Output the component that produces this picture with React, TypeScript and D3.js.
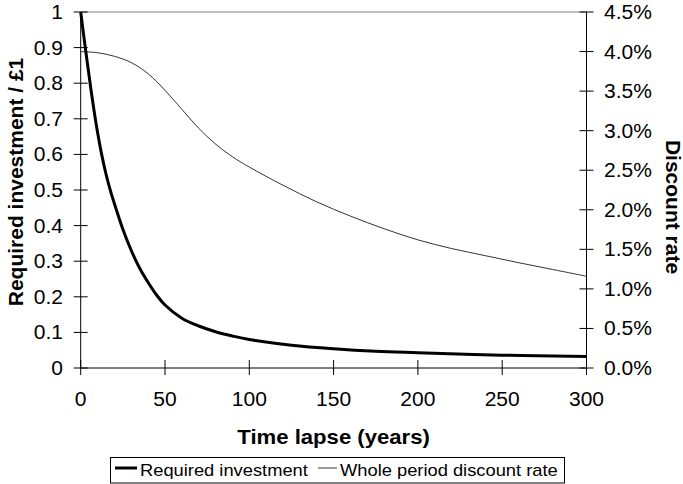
import React from "react";
import * as d3 from "d3";

// Time lapse (years) and the required investment per £1 at each point
const investYears = [0, 3, 6, 9, 12, 15, 18, 21, 25, 30, 35, 40, 45, 50, 60, 70, 80, 90, 100, 125, 150, 175, 200, 250, 300];
const investValues = [1.0, 0.89, 0.785, 0.69, 0.61, 0.545, 0.492, 0.447, 0.39, 0.33, 0.28, 0.24, 0.205, 0.177, 0.14, 0.118, 0.102, 0.09, 0.08, 0.064, 0.054, 0.047, 0.043, 0.036, 0.032];

// Whole period discount rate (fraction) over the same horizon
const rateYears = [0, 10, 20, 30, 40, 50, 60, 70, 80, 90, 100, 120, 140, 160, 180, 200, 220, 240, 260, 280, 300];
const rateValues = [0.04, 0.03985, 0.0394, 0.0386, 0.0372, 0.0351, 0.0327, 0.0303, 0.0283, 0.0267, 0.0254, 0.0231, 0.021, 0.0192, 0.0176, 0.0162, 0.0151, 0.0142, 0.0133, 0.01245, 0.0116];

const xTicks = [0, 50, 100, 150, 200, 250, 300];
const leftTicks = [0, 0.1, 0.2, 0.3, 0.4, 0.5, 0.6, 0.7, 0.8, 0.9, 1];
const rightTicks = [0, 0.005, 0.01, 0.015, 0.02, 0.025, 0.03, 0.035, 0.04, 0.045];

const xTitle = "Time lapse (years)";
const leftTitle = "Required investment / £1";
const rightTitle = "Discount rate";
const legendLabels = ["Required investment", "Whole period discount rate"];

const W = 683;
const H = 484;
const FONT = "'Liberation Sans', Arial, Helvetica, sans-serif";
const SX = 1.09; // horizontal widening of the lettering

const plot = { left: 80.7, right: 586.5, top: 12, bottom: 368 };

export default function App() {
  const x = d3.scaleLinear().domain([0, 300]).range([plot.left, plot.right]);
  const yL = d3.scaleLinear().domain([0, 1]).range([plot.bottom, plot.top]);
  const yR = d3.scaleLinear().domain([0, 0.045]).range([plot.bottom, plot.top]);

  const smooth = d3.curveCatmullRom.alpha(0.5);

  const investLine = d3
    .line<number>()
    .x((_, i) => x(investYears[i]))
    .y((d) => yL(d))
    .curve(smooth)(investValues) as string;

  const rateLine = d3
    .line<number>()
    .x((_, i) => x(rateYears[i]))
    .y((d) => yR(d))
    .curve(smooth)(rateValues) as string;

  const pct = d3.format(".1%");
  const dec = (v: number) => (v === 0 || v === 1 ? String(v) : d3.format(".1f")(v));

  const label = (
    tx: number,
    ty: number,
    text: string,
    size: number,
    anchor: "start" | "middle" | "end",
    bold = false
  ) => (
    <text
      key={text + tx + ty}
      transform={`translate(${tx},${ty}) scale(${SX},1)`}
      fontSize={size}
      fontFamily={FONT}
      fontWeight={bold ? "bold" : "normal"}
      textAnchor={anchor}
      fill="#000"
    >
      {text}
    </text>
  );

  return (
    <svg
      width={W}
      height={H}
      style={{ position: "absolute", left: 0, top: 0, background: "#fff" }}
    >
      <rect x={0} y={0} width={W} height={H} fill="#fff" />
      {/* plot frame */}
      <line x1={plot.left} x2={plot.right} y1={plot.top} y2={plot.top} stroke="#808080" strokeWidth={1} />
      <line x1={plot.left} x2={plot.left} y1={plot.top} y2={plot.bottom} stroke="#000" strokeWidth={1} />
      <line x1={plot.right} x2={plot.right} y1={plot.top} y2={plot.bottom} stroke="#000" strokeWidth={1} />
      <line x1={plot.left} x2={plot.right} y1={plot.bottom} y2={plot.bottom} stroke="#000" strokeWidth={1} />

      {/* left axis */}
      {leftTicks.map((t) => (
        <g key={"l" + t}>
          <line x1={plot.left - 7} x2={plot.left + 7} y1={yL(t)} y2={yL(t)} stroke="#000" strokeWidth={1} />
          {label(63, yL(t) + 7, dec(t), 19.3, "end")}
        </g>
      ))}

      {/* right axis */}
      {rightTicks.map((t) => (
        <g key={"r" + t}>
          <line x1={plot.right - 7} x2={plot.right + 7} y1={yR(t)} y2={yR(t)} stroke="#000" strokeWidth={1} />
          {label(604, yR(t) + 7, pct(t), 19.3, "start")}
        </g>
      ))}

      {/* bottom axis */}
      {xTicks.map((t) => (
        <g key={"x" + t}>
          <line x1={x(t)} x2={x(t)} y1={plot.bottom - 8} y2={plot.bottom + 7} stroke="#000" strokeWidth={1} />
          {label(x(t), 406, String(t), 19.3, "middle")}
        </g>
      ))}

      {/* series */}
      <path d={rateLine} fill="none" stroke="#000" strokeWidth={0.8} />
      <path d={investLine} fill="none" stroke="#000" strokeWidth={3} />

      {/* axis titles */}
      {label((plot.left + plot.right) / 2, 444, xTitle, 20.3, "middle", true)}
      <text
        transform={`translate(23,182) rotate(-90)`}
        fontSize={21}
        fontFamily={FONT}
        fontWeight="bold"
        textAnchor="middle"
      >
        {leftTitle}
      </text>
      <text
        transform={`translate(665.5,207) rotate(90)`}
        fontSize={21}
        fontFamily={FONT}
        fontWeight="bold"
        textAnchor="middle"
      >
        {rightTitle}
      </text>

      {/* legend */}
      <rect x={110.5} y={457.5} width={454} height={25.5} fill="#fff" stroke="#000" strokeWidth={1} />
      <line x1={115} x2={137} y1={468} y2={468} stroke="#000" strokeWidth={3} />
      {label(140, 476, legendLabels[0], 16.8, "start")}
      <line x1={318} x2={337} y1={468} y2={468} stroke="#000" strokeWidth={0.8} />
      {label(340, 476, legendLabels[1], 16.8, "start")}
    </svg>
  );
}
